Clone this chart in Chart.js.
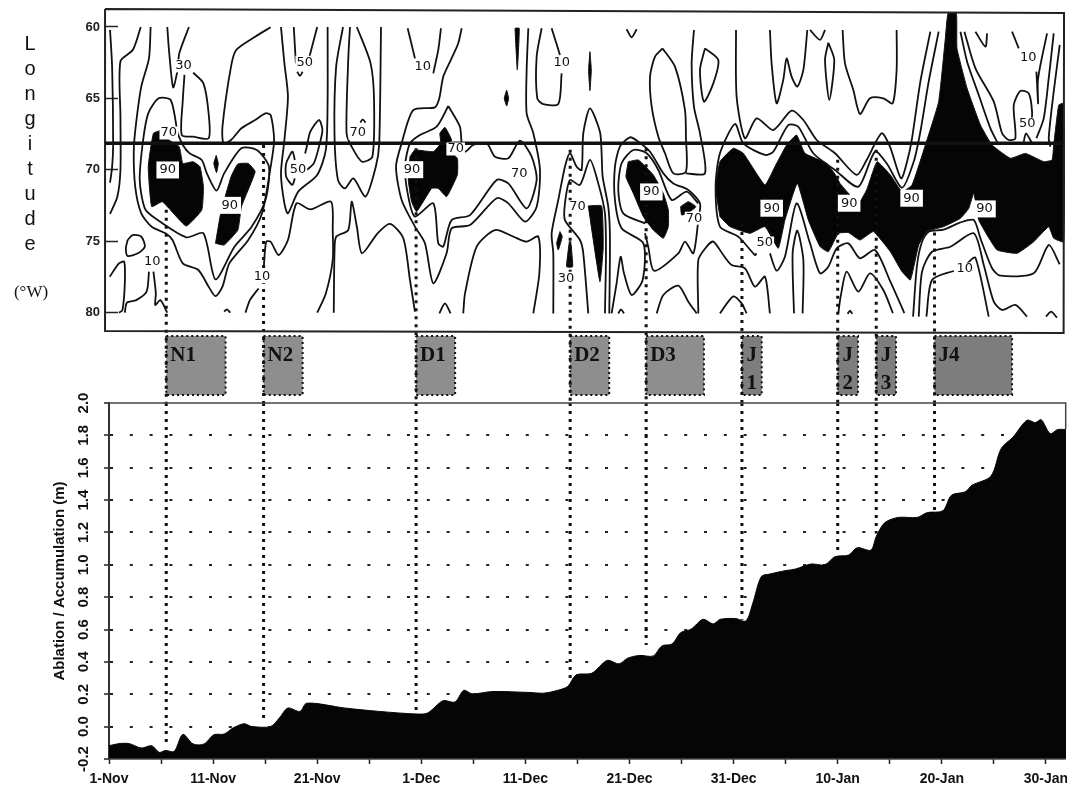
<!DOCTYPE html>
<html>
<head>
<meta charset="utf-8">
<title>Longitude and ablation</title>
<script src="https://cdn.jsdelivr.net/npm/chart.js@4/dist/chart.umd.min.js"></script>
<style>
body { margin: 0; background: #fff; }
canvas { position: absolute; left: 0; }
</style>
</head>
<body>
<canvas id="contourChart" width="1067" height="403" style="top:0"></canvas>
<canvas id="ablationChart" width="1067" height="404" style="top:385px"></canvas>
<script>
// days are counted from 1-Nov, longitudes in degrees W

// lower panel
var ablationDays = [0,0.96,1.95,3.1,4.1,4.83,5.43,6.26,7.09,8.08,9.14,10.07,11.06,11.89,12.98,13.7,15.53,16.36,17.19,18.34,19,22.65,25.96,29.6,30.6,32.09,33.24,34.07,34.9,36.89,40.44,41.76,43.07,44.06,44.88,46.37,47.85,49,49.82,50.97,52.29,53.11,54.1,54.92,55.91,57.06,58.05,58.71,60.19,61.18,61.84,62.66,63.48,64.96,65.95,67.43,68.75,69.74,71.05,71.88,73.19,73.69,74.51,75.82,77.64,78.62,80.1,80.93,82.25,82.9,84.71,85.7,86.85,88.17,88.99,89.55,90.41,91.13,91.93];
var ablationValues = [-0.118,-0.105,-0.105,-0.132,-0.118,-0.159,-0.147,-0.153,-0.048,-0.107,-0.107,-0.05,-0.046,-0.009,0.018,0.001,0.001,0.053,0.115,0.094,0.145,0.115,0.094,0.078,0.084,0.16,0.152,0.224,0.203,0.217,0.211,0.207,0.224,0.248,0.32,0.33,0.409,0.388,0.423,0.44,0.437,0.499,0.511,0.581,0.602,0.663,0.635,0.663,0.668,0.653,0.762,0.927,0.943,0.964,0.974,1.005,1,1.05,1.06,1.106,1.091,1.173,1.26,1.293,1.293,1.323,1.334,1.43,1.451,1.492,1.548,1.718,1.79,1.893,1.879,1.897,1.811,1.836,1.836];
var ablationTicks = [-0.2,0,0.2,0.4,0.6,0.8,1,1.2,1.4,1.6,1.8,2];
var dayTicks = [0,5,10,15,20,25,30,35,40,45,50,55,60,65,70,75,80,85,90];
var dayLabels = ['1-Nov','','11-Nov','','21-Nov','','1-Dec','','11-Dec','','21-Dec','','31-Dec','','10-Jan','','20-Jan','','30-Jan'];

// events
var eventNames = [['N1'],['N2'],['D1'],['D2'],['D3'],['J','1'],['J','2'],['J','3'],['J4']];
var eventStart = [5.5,14.85,29.5,44.3,51.6,60.8,70,73.7,79.3];
var eventEnd = [11.2,18.6,33.25,48.05,57.15,62.7,71.95,75.6,86.75];
var eventLonStart = [72.8,68.27,68.5,68.6,68.5,73.8,69.3,68.6,74.4];
var eventAblationEnd = [-0.12,0.022,0.084,0.269,0.505,0.66,1.07,1.194,1.328];

// upper panel
var lonTicks = [60,65,70,75,80];
var dividerLon = 68.15;

var openContours = [
  [[0.1,60.2],[0.3,62.8],[0.4,68.2],[0.3,69.8],[0.1,70.9]],
  [[3.05,60],[2.3,61.6],[1.1,62.4],[1.1,66.3],[1.1,70],[0.8,71.9],[0.1,73.1]],
  [[4,60],[3.84,62.2],[3.1,64.18],[2.6,66.75],[2.38,68.62],[2.52,71.2],[3.1,73.06],[4.1,74],[5.43,74.46],[6.1,74.93],[7.09,76.57],[8.58,77.03],[9.57,78.2],[10.23,78.86],[10.9,78.2],[11.56,76.57],[13.38,74.93],[14.7,73.06],[15.53,69.79],[15.86,67.92],[15.53,66.17],[15.03,66.05],[14.04,66.52],[12.72,67.1],[11.72,67.92],[11,68.15],[10.9,66.99],[11.72,62.78],[12.22,61.61],[14.04,60.68],[15.53,60.02]],
  [[0.07,77.5],[0.96,76.57],[1.46,76.45],[1.52,77.97],[1.29,79.84],[0.96,80.02]],
  [[1.52,80.02],[1.72,79.32],[2.62,79.14],[3.61,78.55],[3.84,77.15]],
  [[4.27,77.15],[4.5,78.67],[4.44,79.49],[4.93,79.14],[5.6,80.02]],
  [[5.6,60],[5.76,61.61],[6.16,64.23],[6.59,63.01],[6.75,61.85],[7.68,60]],
  [[7.25,63.36],[7.09,65.12],[6.99,67.57],[8.08,67.69],[9.57,67.8],[9.57,66.05],[9.07,63.95],[8.08,63.2]],
  [[11.06,79.95],[11.32,79.79],[11.66,80.02]],
  [[13.11,80.02],[13.54,79.14],[14.37,78.32]],
  [[14.87,76.8],[15.1,75.05],[15.53,75.05],[16.29,75.98],[17.19,74.93],[18.01,72.36],[19.34,72.78],[21.32,72.24],[21.49,74.23],[21.49,76.33],[20.83,78.67],[20,80.02]],
  [[16.52,60],[16.85,62.55],[17.19,64.88],[16.85,67.92],[16.52,70.26],[16.85,72.36],[17.19,73.06],[18.18,71.54],[20,70.37],[20.83,68.62],[21,65.12],[21,60]],
  [[17.75,60],[17.95,62.55]],
  [[18.08,63.13],[18.34,63.43],[18.6,63.13]],
  [[20,60],[19.17,62.31]],
  [[17.85,69.32],[17.62,68.74],[17.02,69.56],[17.02,70.49],[17.62,71.07],[17.85,70.61]],
  [[19,70.02],[19.67,69.56],[20.17,68.39],[20.5,67.22],[20.17,66.52],[19.34,67.34],[19,68.39],[18.84,68.86]],
  [[22.48,60],[21.82,62.78],[21.66,67.45],[21.99,70.72],[22.65,71.31],[23.48,70.61],[24.64,71.89],[25.63,69.79],[25.96,68.15],[26.13,60]],
  [[23.15,60],[22.98,62.31],[22.82,67.45],[23.31,68.39],[24.3,69.44],[25.3,69.09],[25.46,65.12],[25.13,62.55],[23.81,60]],
  [[24.14,66.7],[24.37,66.47],[24.64,66.7]],
  [[21.59,80.02],[21.66,75.86],[21.82,74.7],[22.98,74.23],[23.31,72.24],[23.81,74],[24.3,75.86],[25.8,74.46],[27,73.8],[28.27,74.81],[28.91,77.73],[29.39,79.95]],
  [[28.69,60.09],[29.39,62.2]],
  [[31.89,60.09],[31.63,61.61],[31.15,63.25]],
  [[33.88,60.09],[33.55,61.14],[32.91,62.2],[32.11,63.48],[31.73,65],[31.31,65.63],[29.23,65.82],[28.11,68.15],[27.57,69.79],[28.11,72.12],[29.39,73.99],[30.35,75.16],[31.15,77.96],[32.43,75.86],[32.91,74.11],[34.68,73.88],[37.24,72],[38.36,72.36],[39.96,73.64],[41.08,72.59],[41.4,70.02],[40.76,67.45],[40.12,66.05],[40.12,63.01],[40.28,60.09]],
  [[34.03,80.07],[34.2,78.67],[35.32,75.39],[37.08,74.23],[38.84,74.69],[40.12,75.04],[41.24,74.69],[41.34,77.26],[40.76,80.07]],
  [[31.73,80.07],[32.27,79.37],[32.82,80.07]],
  [[41.56,60.09],[41.08,62.08],[41.14,65],[41.72,65.4],[43.16,65.4],[43.48,63.25]],
  [[42.52,60.09],[43.32,61.96]],
  [[49.72,60.16],[50.2,60.72],[50.69,60.16]],
  [[42.68,80.07],[42.68,75.86],[42.52,74.46],[43.16,72.12],[43.8,69.79],[44.28,68.85],[44.92,69.79],[45.4,70.02],[45.56,67.45],[46.2,65.7],[47.16,67.34],[47.32,68.85],[47.42,70.49],[47.96,72.59],[48.12,74.69],[48.06,80.07]],
  [[46.04,80.07],[45.56,75.86],[45.24,74.93],[43.8,73.53],[43.8,72.36],[44.28,70.72],[45.24,71.07],[46.2,69.32],[47,70.96],[47.64,73.06],[47.74,75.86],[47.64,80.07]],
  [[48.92,80.07],[49.18,79.79],[49.47,80.07]],
  [[48.28,80.07],[48.76,77.96],[49.15,76.1],[49.47,77.26],[50.2,78.78],[51.26,77.73],[51.33,75.16],[49.24,74.11],[48.6,72.12],[48.6,69.79],[49.08,68.39],[50.04,67.73],[50.85,68.04],[51.97,68.74],[53.25,70.26],[54.21,70.96],[55.65,71.42],[56.77,72.36],[56.61,73.53],[56.13,75.86],[55.33,75.04],[54.69,75.86],[52.35,77.08],[51.8,75.39],[51.49,74.46]],
  [[51.49,73.76],[49.4,73.06],[48.92,71.42],[49.24,69.55],[50.37,68.62],[51.65,68.85],[52.77,70.02],[54.05,72.12],[55.49,71.54],[56.61,72.36]],
  [[56.19,60.21],[55.97,62.55],[56.19,65.58],[56.77,67.45],[57.25,70.26],[55.42,70.26]],
  [[52.61,80.07],[53.25,78.78],[54.69,78.13],[55.65,79.25],[56.45,80.07]],
  [[56.61,80.07],[56.61,76.33],[57.41,75.39],[58.05,75.04],[59.01,75.98],[59.81,76.68],[61.09,76.91],[62.05,78.2],[63.01,77.5],[63.49,80.07]],
  [[58.69,80.07],[59.97,78.88],[60.77,79.37],[61.25,80.07]],
  [[60.23,60.21],[60.29,64.88],[61.09,67.8],[62.21,66.4],[63.81,67.22],[65.57,65.86],[66.7,66.52],[67.98,67.92],[69.74,68.85],[71.82,70.37],[72.78,69.32],[74.22,67.45],[75.02,68.39],[76.09,70.61],[76.66,69.44],[77.14,67.8],[77.94,63.83],[78.9,60.33]],
  [[62.21,75.86],[62.05,75.98],[60.45,74.69],[58.69,73.99],[58.27,71.19],[58.69,68.85],[60.13,66.8],[60.93,68.15],[63.01,68.97],[63.81,68.74],[65.25,66.87],[66.21,66.99],[67.65,68.85],[69.74,70.02],[71.98,71.19],[73.58,68.74],[74.7,69.55],[76.18,71.26],[77.3,69.44],[77.94,67.34],[78.74,63.83],[79.7,60.33]],
  [[63.49,75.86],[64.13,77.08],[64.93,76.1],[66.05,72.36],[67.34,75.16],[68.3,77.26],[69.1,76.8],[69.9,75.51],[71.02,75.16],[72.14,76.21],[73.58,75.63],[75.06,77.85],[76.4,80.05]],
  [[70.06,80.07],[70.28,78.9],[70.86,77.15],[71.98,78.55],[73.1,77.26],[74.38,78.43],[75.3,80.05]],
  [[65.8,80.07],[65.67,75.86],[66.12,74.27],[66.7,76.33],[66.63,80.07]],
  [[70.95,80.1],[71.18,79.88],[71.4,80.1]],
  [[63.49,60.21],[63.65,62.55],[64.13,65.35],[64.77,63.71],[65.09,62.2],[65.57,63.48],[66.12,64.18],[66.7,63.01],[67.08,60.21]],
  [[67.34,60.21],[68.3,60.91],[68.78,60.21]],
  [[70.47,60.21],[70.7,62.55],[71.5,64.42],[72.14,66.1],[73.1,65],[74.38,65],[75.28,65.35],[75.66,63.01],[75.66,60.21]],
  [[81.79,60.33],[82.43,62.43],[83.55,64.77],[84.67,67.1],[85.47,68.27]],
  [[82.17,60.33],[83.23,62.9],[84.99,65.23],[85.79,67.45],[86.43,67.92],[87.07,67.8],[86.91,65.47],[87.55,64.49],[88.35,64.65],[88.67,65.94],[88.57,67.22]],
  [[87.87,68.04],[88.09,67.45],[88.67,68.15]],
  [[89.09,67.8],[89.79,66.4],[90.27,63.6],[90.75,60.45]],
  [[90.11,60.45],[89.47,62.67],[89.22,63.83],[89.25,65.35],[89.09,63.13]],
  [[91.33,61.26],[90.75,64.53],[90.27,67.8],[90.43,68.39]],
  [[83.23,60.33],[84.19,61.38],[84.35,60.45]],
  [[86.75,60.33],[87.39,61.5]],
  [[77.24,80.3],[77.62,76.68],[78.1,75.05],[78.74,74.34],[80.18,74.2],[81.79,73.7],[83.07,73.53],[83.71,74.81],[84.83,76.91],[85.63,77.43],[88.83,77.26],[90.27,75.28],[91.33,76.63]],
  [[77.78,80.3],[78.1,77.15],[79.06,75.75],[80.82,75.4],[83.07,74.46],[84.03,76.68],[84.99,79.25],[85.79,79.83],[87.07,79.48],[88.19,80.3]],
  [[78.52,80.3],[79.06,77.73],[81.15,77.08]],
  [[82.43,76.56],[83.23,76.17],[84.51,80.3]],
  [[90,80.3],[90.5,79.95],[91.07,80.37]]
];

var closedContours = [
  [[6.59,67.45],[5.93,65.12],[4.77,65],[3.77,66.05],[3.28,67.92],[2.95,70.72],[3.44,72.71],[4.44,73.41],[7.42,74.74],[9.07,74.46],[10.23,77.69],[12.05,75.4],[13.7,74],[15.03,72.13],[15.36,69.79],[14.2,68.62],[12.72,68.5],[11.06,70.26],[10.33,71.47],[9.4,70.26],[8.91,69.32],[7.75,68.86],[7.09,68.27]],
  [[1.79,74.93],[2.28,74.58],[3.11,74.7],[3.44,75.4],[2.78,75.86],[1.79,76.05],[1.62,75.51]],
  [[32.59,65.54],[33.71,66.99],[33.88,68.15],[34.2,68.74],[34.98,68.27],[36.28,68.15],[37.08,69.09],[38.36,69.2],[39.48,67.97],[40.6,69.09],[41.08,70.72],[40.12,72.71],[38.36,70.96],[37.24,70.72],[34.68,73.18],[32.91,73.53],[32.11,75.39],[31.63,75.16],[31.15,72.36],[29.39,73.29],[28.75,71.89],[28.43,69.79],[28.91,68.15],[29.87,67.57],[31.47,66.99]],
  [[53.18,61.5],[54.37,62.78],[55.33,65.82],[55.42,67.69],[55.42,70.14],[54.21,70.26],[53.41,68.85],[52.77,67.69],[52.13,65.58],[51.97,63.48],[52.45,62.08]],
  [[57.25,61.5],[58.53,62.31],[58.05,63.95],[57.15,65.23],[56.77,63.01]],
  [[69.1,61.1],[69.67,62.31],[69.19,65.12],[68.78,62.31]]
];

// the areas above 90
var blackAreas = [
  [[5.1,67.22],[4.27,67.45],[3.77,69.79],[4.1,72.59],[5.1,72.24],[5.76,72.71],[7.42,73.95],[8.91,72.83],[9.07,71.19],[8.74,69.79],[8.08,69.44],[7.09,69.56],[6.75,68.39],[5.76,67.92]],
  [[10.23,75.16],[10.73,73.06],[11.72,70.49],[12.38,69.6],[13.38,69.56],[14.04,70.14],[12.72,72.59],[12.38,74.23],[11.06,75.28]],
  [[10.3,69],[10.5,69.56],[10.33,70.21],[10.07,69.56]],
  [[28.91,69.09],[29.39,68.62],[31.15,68.74],[31.86,68.15],[31.79,67.45],[32.27,67.03],[32.91,67.92],[32.43,68.5],[33.46,69.2],[33.46,70.37],[32.43,71.89],[31.63,71.31],[30.99,71.31],[29.55,72.94],[29.07,72.24],[28.75,70.72]],
  [[39,60.09],[39.22,63.01],[39.41,60.09]],
  [[38.2,64.42],[38.39,65],[38.2,65.54],[37.97,65]],
  [[46.2,61.73],[46.07,63.01],[46.2,64.46],[46.33,63.01]],
  [[46.04,72.54],[47.32,72.54],[47.48,75.39],[47.16,77.85]],
  [[43.32,74.34],[43,75.16],[43.16,75.63],[43.54,74.69]],
  [[44.22,75.04],[43.96,76.8],[44.54,76.8],[44.35,75.04]],
  [[49.88,69.44],[50.85,69.32],[52.29,70.37],[53.25,71.66],[53.73,72.83],[53.73,73.99],[53.25,74.81],[52.29,74.23],[51.33,73.29],[50.37,71.66],[49.66,70.49]],
  [[54.91,72.59],[55.65,72.24],[56.38,72.59],[55.81,72.94],[55.01,73.18]],
  [[58.69,73.29],[59.65,73.99],[61.57,74.46],[63.01,73.99],[64.29,75.51],[64.93,73.53],[66.12,70.96],[67.18,73.53],[68.3,75.39],[69.1,75.75],[70.06,74.46],[71.02,74.41],[72.14,74.93],[73.42,74.34],[75.06,75.75],[76.18,77.15],[76.98,77.73],[77.78,75.28],[78.58,74.34],[80.18,73.99],[81.79,73.41],[82.59,72.71],[83.07,71.66],[83.55,73.53],[84.35,74.58],[85.31,75.63],[87.23,75.86],[88.83,75.05],[90.27,74],[90.75,74.81],[91.71,75.05],[91.71,65.35],[91.23,65.47],[90.75,68.27],[90.59,69.32],[89.79,69.44],[88.03,68.86],[86.59,69.2],[84.83,68.27],[83.71,66.87],[82.43,64.3],[81.46,61.5],[81.4,59.04],[80.6,59.04],[80.34,60.8],[79.7,65.23],[78.42,68.27],[77.14,71.07],[76.18,71.54],[75.06,70.37],[73.78,69.44],[72.78,71.42],[71.98,72.36],[70.22,70.96],[69.9,70.49],[68.94,69.55],[66.85,68.85],[66.05,67.57],[65.09,68.27],[63.97,69.79],[63.01,71.07],[60.93,68.85],[59.97,68.5],[58.69,69.44],[58.27,71.3]]
];

// contour labels
var labelDays = [7.15,18.8,23.9,30.15,5.74,5.64,11.6,18.15,4.15,14.7,29.1,33.3,39.4,43.5,45,43.9,52.1,56.2,63.66,63,71.1,77.1,84.1,82.2,88.2,88.3];
var labelLons = [62.73,62.47,67.43,62.8,67.43,70.02,72.5,70,76.47,77.5,70,68.55,70.3,62.5,72.6,77.6,71.56,73.4,72.7,75.14,72.35,72,72.75,76.96,66.8,62.15];
var labelTexts = ['30','50','70','10','70','90','90','50','10','10','90','70','70','10','70','30','90','70','90','50','90','90','90','10','50','10'];

// frame of the upper panel, the scan sits slightly skewed
var frameDays = [-0.38,91.74,91.7,-0.38,-0.38];
var frameLons = [58.74,59.02,81.44,81.3,58.74];

var font = '"Liberation Sans", Arial, sans-serif';

function toPoints(pts) {
  return pts.map(function (p) { return {x: p[0], y: p[1]}; });
}

function lineSet(pts, extra) {
  return Object.assign({
    data: toPoints(pts),
    showLine: true,
    pointRadius: 0,
    borderColor: '#111',
    borderWidth: 1.8,
    tension: 0.25,
    fill: false,
    clip: false,
    order: 2
  }, extra);
}

var topSets = [];

blackAreas.forEach(function (pts) {
  topSets.push(lineSet(pts.concat([pts[0]]), {fill: 'shape', backgroundColor: '#050505', borderWidth: 1, tension: 0.12, order: 3}));
});
openContours.forEach(function (pts) {
  topSets.push(lineSet(pts));
});
closedContours.forEach(function (pts) {
  topSets.push(lineSet(pts.concat([pts[0]])));
});

eventNames.forEach(function (name, i) {
  topSets.push(lineSet([[eventStart[i],81.65],[eventEnd[i],81.65],[eventEnd[i],85.79],[eventStart[i],85.79],[eventStart[i],81.65]], {
    fill: 'shape', backgroundColor: i > 4 ? '#7d7d7d' : '#8e8e8e', borderDash: [2,3], borderWidth: 2, tension: 0, order: 4
  }));
  topSets.push(lineSet([[eventStart[i],eventLonStart[i]],[eventStart[i],86.35]], {
    borderDash: [3,5], borderWidth: 3, tension: 0, order: 1
  }));
});

topSets.push(lineSet([[-0.38,dividerLon],[91.7,dividerLon]], {borderWidth: 3.5, tension: 0, order: 0}));
topSets.push(lineSet(frameDays.map(function (d, i) { return [d, frameLons[i]]; }), {borderColor: '#222', borderWidth: 2, tension: 0, order: 0}));

// text that is not an axis label
var panelText = {
  id: 'panelText',
  afterDatasetsDraw: function (chart) {
    var ctx = chart.ctx, xs = chart.scales.x, ys = chart.scales.y;
    ctx.save();
    ctx.textAlign = 'center';
    ctx.textBaseline = 'middle';
    ctx.font = '13px "DejaVu Sans"';
    labelTexts.forEach(function (t, i) {
      var x = xs.getPixelForValue(labelDays[i]), y = ys.getPixelForValue(labelLons[i]);
      var w = ctx.measureText(t).width + (t === '90' ? 6 : 2), h = t === '90' ? 17 : 13;
      ctx.fillStyle = '#fff';
      ctx.fillRect(x - w / 2, y - h / 2, w, h);
      ctx.fillStyle = '#111';
      ctx.fillText(t, x, y);
    });

    ctx.font = 'bold 21px "Liberation Serif"';
    eventNames.forEach(function (name, i) {
      var left = xs.getPixelForValue(eventStart[i]);
      var right = xs.getPixelForValue(eventEnd[i]);
      if (name.length > 1) {
        ctx.textAlign = 'center';
        ctx.fillText(name[0], (left + right) / 2, 356);
        ctx.fillText(name[1], (left + right) / 2, 384);
      } else {
        ctx.textAlign = 'left';
        ctx.fillText(name[0], left + 4, 356);
      }
    });

    ctx.textAlign = 'center';
    ctx.font = '20px ' + font;
    'Longitude'.split('').forEach(function (c, i) {
      ctx.fillText(c, 30, 44 + i * 25);
    });
    ctx.font = '17px "Liberation Serif"';
    ctx.fillText('(°W)', 31, 293);
    ctx.restore();
  }
};

new Chart(document.getElementById('contourChart'), {
  type: 'scatter',
  data: {datasets: topSets},
  plugins: [panelText],
  options: {
    responsive: false,
    animation: false,
    events: [],
    layout: {padding: {left: 0, top: 7, right: 1, bottom: 0}},
    plugins: {legend: {display: false}, tooltip: {enabled: false}},
    scales: {
      x: {type: 'linear', display: false, min: -0.384, max: 91.93},
      y: {
        type: 'linear',
        reverse: true,
        min: 58.6,
        max: 86.35,
        afterBuildTicks: function (s) { s.ticks = lonTicks.map(function (v) { return {value: v}; }); },
        afterFit: function (s) { s.width = 105; s.paddingTop = 0; s.paddingBottom = 0; },
        grid: {drawOnChartArea: false, tickLength: -13, tickColor: '#222', tickWidth: 1.5},
        border: {display: false},
        ticks: {padding: 18, color: '#222', font: {family: font, size: 13, weight: 'bold'}}
      }
    }
  }
});

var bottomSets = [
  lineSet(ablationDays.map(function (d, i) { return [d, ablationValues[i]]; }), {
    fill: 'start', backgroundColor: '#050505', borderColor: '#050505', borderWidth: 1, tension: 0.3, clip: true, order: 2
  }),
  lineSet([[0,2],[91.9,2],[91.9,1.84]], {borderColor: '#444', borderWidth: 1.5, tension: 0, order: 1}),
  lineSet([[0,-0.2],[91.9,-0.2]], {borderColor: '#444', borderWidth: 1.5, tension: 0, order: 1})
];
eventStart.forEach(function (d, i) {
  bottomSets.push(lineSet([[d,2],[d,eventAblationEnd[i]]], {borderDash: [3,5], borderWidth: 3, tension: 0, order: 1}));
});

new Chart(document.getElementById('ablationChart'), {
  type: 'scatter',
  data: {datasets: bottomSets},
  options: {
    responsive: false,
    animation: false,
    events: [],
    layout: {padding: {left: 51, top: 18, right: 1, bottom: 0}},
    plugins: {legend: {display: false}, tooltip: {enabled: false}},
    scales: {
      x: {
        type: 'linear',
        min: 0,
        max: 91.93,
        afterBuildTicks: function (s) { s.ticks = dayTicks.map(function (v) { return {value: v}; }); },
        afterFit: function (s) { s.height = 30; s.paddingRight = 0; s.paddingLeft = 0; },
        grid: {drawOnChartArea: false, tickLength: 5, tickColor: '#222', tickWidth: 1.5},
        border: {display: false},
        ticks: {
          autoSkip: false,
          maxRotation: 0,
          padding: 7,
          color: '#111',
          font: {family: font, size: 14, weight: 'bold'},
          callback: function (v) { return dayLabels[dayTicks.indexOf(v)]; }
        }
      },
      y: {
        type: 'linear',
        min: -0.2,
        max: 2,
        afterBuildTicks: function (s) { s.ticks = ablationTicks.map(function (v) { return {value: v}; }); },
        afterFit: function (s) { s.width = 58; },
        title: {display: true, text: 'Ablation / Accumulation (m)', color: '#111', padding: 0, font: {family: font, size: 15, weight: 'bold'}},
        grid: {
          color: function (c) { return c.tick && c.tick.value > -0.15 && c.tick.value < 1.95 ? '#222' : 'rgba(0,0,0,0)'; },
          lineWidth: 2,
          tickLength: 5,
          tickColor: '#222',
          tickWidth: 1.5
        },
        border: {display: true, color: '#333', width: 2, dash: [3,16.8]},
        ticks: {
          minRotation: 90,
          maxRotation: 90,
          crossAlign: 'center',
          padding: 7,
          color: '#111',
          font: {family: font, size: 15, weight: 'bold'},
          callback: function (v) { return v.toFixed(1); }
        }
      }
    }
  }
});
</script>
</body>
</html>
